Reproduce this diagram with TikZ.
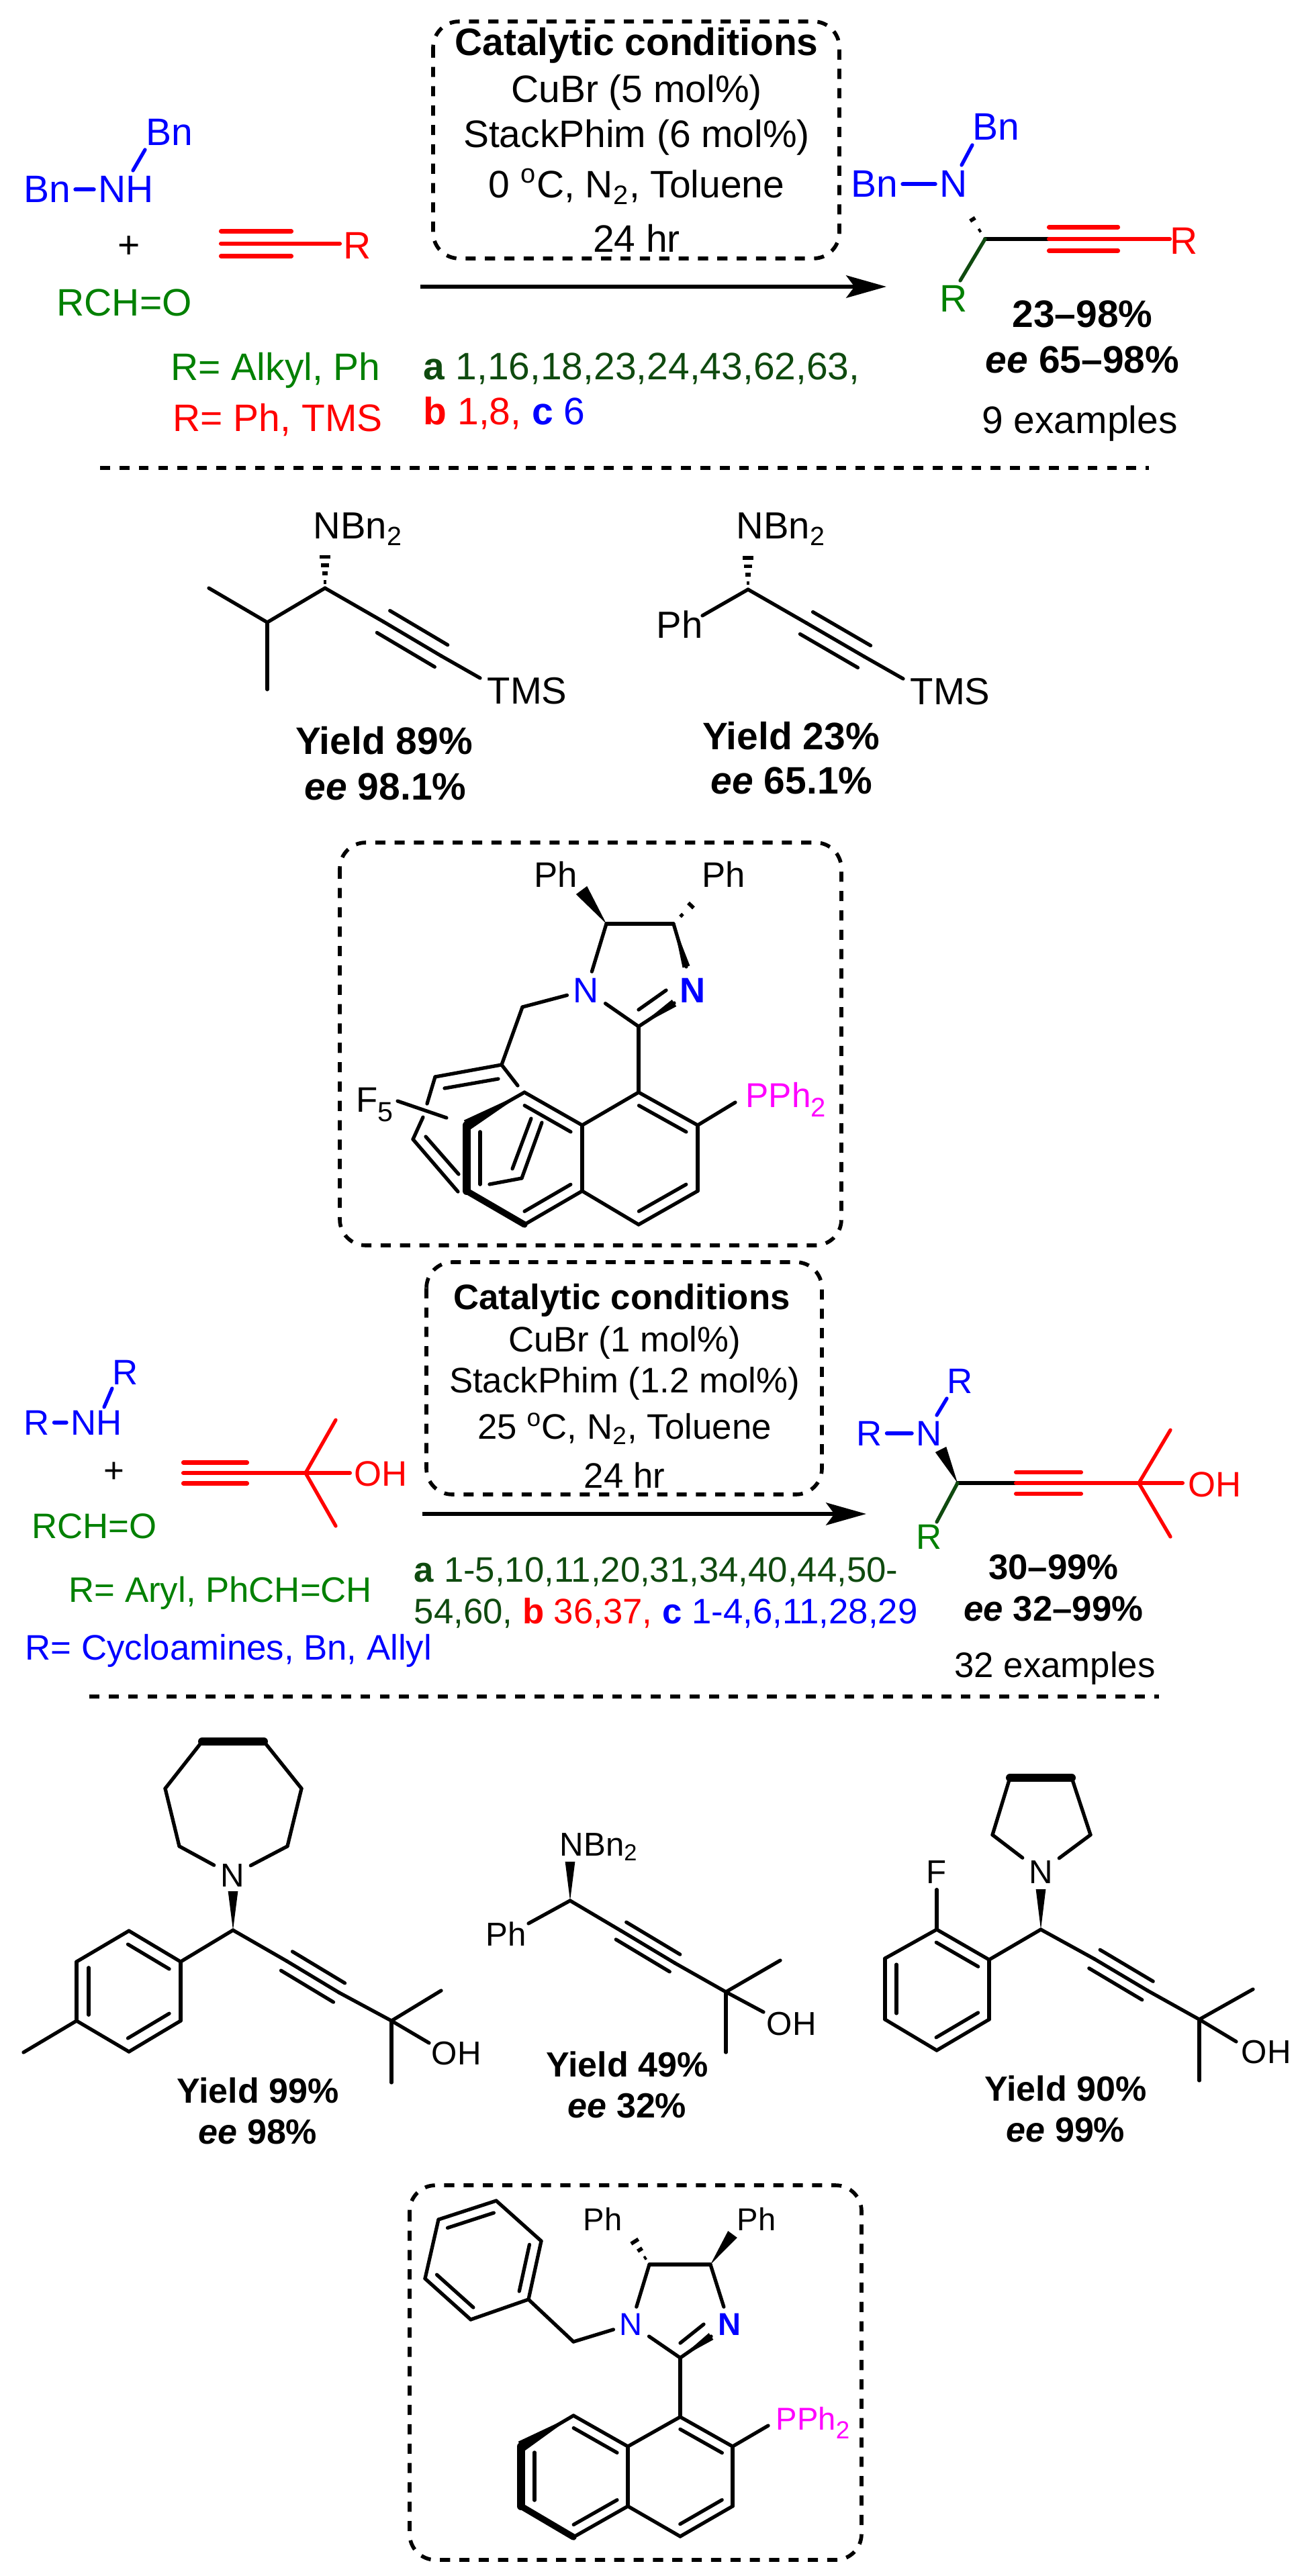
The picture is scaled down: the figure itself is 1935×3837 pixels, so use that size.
\documentclass[tikz,border=0pt]{standalone}
\usepackage{fontspec}
\setmainfont{Liberation Sans}
\usetikzlibrary{arrows.meta,calc}
\definecolor{leaf}{HTML}{008000}
\definecolor{pine}{HTML}{0F4A0F}
\definecolor{phos}{HTML}{FF00FF}
\tikzset{
  bond/.style={line width=1.5pt, line cap=round},
  heavy/.style={line width=1.75pt},
  boldbond/.style={line width=3.4pt, line cap=round},
  midbond/.style={line width=2.7pt, line cap=round},
  lbond/.style={bond, shorten >=1.8pt, shorten <=1.8pt},
  dashbox/.style={line width=1.6pt, dash pattern=on 4.3pt off 3.9pt, rounded corners=11pt},
  sepline/.style={line width=1.6pt, dash pattern=on 4.2pt off 4pt},
  reaction/.style={line width=1.6pt, -{Stealth[length=17pt,width=9.5pt,inset=3.5pt]}},
  lab/.style={inner sep=0pt, anchor=base west, font=\fontsize{#1}{#1}\selectfont},
  lab/.default=16.2,
  mid/.style={inner sep=0pt, anchor=base, font=\fontsize{#1}{#1}\selectfont},
  mid/.default=16.2,
  atom/.style={inner sep=2.5pt, anchor=base, font=\fontsize{#1}{#1}\selectfont},
  atom/.default=14,
}
\newcommand{\atoms}[1]{\foreach \n/\x/\y in {#1} \coordinate (\n) at (\x,\y);}
\newcommand{\bonds}[2][]{\foreach \p/\q in {#2} \draw[bond,#1] (\p) -- (\q);}
\newcommand{\sidebond}[4][]{\draw[bond,#1] ($(#2)!0.1!(#3)!#4!90:(#3)$) -- ($(#3)!0.1!(#2)!#4!-90:(#2)$);}
\newcommand{\triplebond}[4][]{\draw[bond,#1] (#2) -- (#3);
  \draw[bond,#1] ($(#2)!#4!90:(#3)$) -- ($(#3)!#4!-90:(#2)$);
  \draw[bond,#1] ($(#2)!-#4!90:(#3)$) -- ($(#3)!-#4!-90:(#2)$);}
\newcommand{\wedgebond}[3]{\fill (#1) -- ($(#2)!#3!90:(#1)$) -- ($(#2)!#3!-90:(#1)$) -- cycle;}
\newcommand{\hashbond}[4]{\foreach \t in {#4} {
  \pgfmathsetmacro\hw{\t*#3}
  \draw[line width=1.6pt] ($(#1)!\t!(#2)!\hw pt!90:(#2)$) -- ($(#1)!\t!(#2)!\hw pt!-90:(#2)$);}}
\newcommand{\subs}[1]{\raisebox{-.28em}{\scalebox{.78}{#1}}}
\begin{document}
\begin{tikzpicture}[x=0.01cm,y=-0.01cm]
    \useasboundingbox (0,0) rectangle (1935,3837);

    % First reaction: conditions
    \draw[dashbox] (645,32) rectangle (1250,385);
    \node[mid] (condA) at (948,83) {\textbf{Catalytic conditions}};
    \node[mid] (cuA) at (948,153) {CuBr (5 mol\%)};
    \node[mid] (phimA) at (948,220) {StackPhim (6 mol\%)};
    \node[mid] (tempA) at (948,295) {0 \textsuperscript{o}C, N\textsubscript{2}, Toluene};
    \node[mid] (timeA) at (948,376) {24 hr};
    \atoms{arrA/626/427, arrB/1320/427}
    \draw[reaction] (arrA) -- (arrB);

    % First reaction: reactants
    \node[lab,blue] (bnUp) at (217,217) {Bn};
    \node[lab,blue] (bnLeft) at (35,302) {Bn};
    \node[lab,blue] (nhTop) at (146,302) {NH};
    \draw[lbond,blue,heavy] (bnLeft) -- (nhTop);
    \atoms{nhA/198/254, nhB/216/223}
    \bonds[blue]{nhA/nhB}
    \node[mid] (plusA) at (192,385) {+};
    \atoms{ynA/329/363, ynB/434/363, ynC/506/363}
    \triplebond[red,heavy]{ynA}{ynB}{0.185cm}
    \bonds[red,heavy]{ynB/ynC}
    \node[lab,red] (rynA) at (511,386) {R};
    \node[lab,leaf] (aldA) at (84,471) {RCH=O};
    \node[lab,leaf] (rsA) at (254,567) {R= Alkyl, Ph};
    \node[lab,red] (rsB) at (257,643) {R= Ph, TMS};
    \node[lab,pine] (listA) at (630,566) {\textbf{a} 1,16,18,23,24,43,62,63,};
    \node[lab,red] (listB) at (630,633) {\textbf{b} 1,8, \textcolor{blue}{\textbf{c} 6}};

    % First reaction: product
    \node[lab,blue] (bnPa) at (1448,209) {Bn};
    \node[lab,blue] (bnPb) at (1267,294) {Bn};
    \node[lab,blue] (nPa) at (1399,294) {N};
    \draw[lbond,blue,heavy] (bnPb) -- (nPa);
    \atoms{pnA/1432/246, pnB/1448/216, pcA/1467/356, pnC/1432/301, pyA/1562/356, pyB/1665/356, pyC/1742/356, prA/1430/418}
    \bonds[blue]{pnA/pnB}
    \hashbond{pcA}{pnC}{2.4}{.23,.53,1}
    \bonds[heavy]{pcA/pyA}
    \triplebond[red,heavy]{pyA}{pyB}{0.175cm}
    \bonds[red,heavy]{pyB/pyC}
    \bonds[pine]{pcA/prA}
    \node[lab,red] (rynP) at (1742,379) {R};
    \node[lab,leaf] (rP) at (1399,465) {R};
    \node[mid] (yieldA) at (1612,488) {\textbf{23–98\%}};
    \node[mid] (eeA) at (1612,556) {\textbf{\textit{ee} 65–98\%}};
    \node[mid] (numA) at (1608,646) {9 examples};

    \atoms{sepA/149/697, sepB/1711/697}
    \draw[sepline] (sepA) -- (sepB);

    % Isopropyl example
    \node[lab=16] (nbnM) at (466,803) {NBn\textsubscript{2}};
    \atoms{mc/484/876, mn/484/814, mi/398/927, mme/311/876, mmf/398/1027, mp/571/926, mq/657/977, mt/715/1010}
    \hashbond{mc}{mn}{2.9}{.15,.35,.55,.75,1}
    \bonds{mc/mi, mi/mme, mi/mmf, mc/mp, mq/mt}
    \triplebond{mp}{mq}{0.19cm}
    \node[lab=16] (tmsM) at (725,1048) {TMS};
    \node[mid] (yieldM) at (572,1123) {\textbf{Yield 89\%}};
    \node[mid] (eeM) at (574,1191) {\textbf{\textit{ee} 98.1\%}};

    % Phenyl example
    \node[lab=16] (nbnF) at (1096,803) {NBn\textsubscript{2}};
    \node[lab=16] (phF) at (977,950) {Ph};
    \atoms{fc/1114/878, fn/1114/815, fh/1046/917, fp/1201/928, fq/1287/978, ft/1345/1011}
    \hashbond{fc}{fn}{2.9}{.15,.35,.55,.75,1}
    \bonds{fc/fh, fc/fp, fq/ft}
    \triplebond{fp}{fq}{0.19cm}
    \node[lab=16] (tmsF) at (1355,1049) {TMS};
    \node[mid] (yieldF) at (1178,1116) {\textbf{Yield 23\%}};
    \node[mid] (eeF) at (1179,1182) {\textbf{\textit{ee} 65.1\%}};

    % First ligand
    \draw[dashbox] (506,1255) rectangle (1253,1855);
    \node[lab=15] (phKa) at (795,1321) {Ph};
    \node[lab=15] (phKb) at (1045,1321) {Ph};
    \node[atom=15,blue] (kn1) at (873,1493) {N};
    \node[atom=15,blue] (kn3) at (1032,1493) {\textbf{N}};
    \atoms{kc4/903/1376, kc5/1003/1376, kwa/866/1326, kwb/1043/1334, kwc/1022/1440, kc2/951/1529, kwd/1004/1494, kia/951/1504, kib/992/1475, kch/778/1500,
      kpi/747/1586, kp2/648/1604, kp3/636/1644, kp4/630/1664, kp5/615/1697, kp6/682/1775, kp7/771/1617,
      kq1/742/1607, kq2/662/1621, kq3/634/1693, kq4/683/1749, kq5/791/1666, kq6/763/1741, kq7/807/1672, kq8/777/1755, kq9/729/1764,
      kfa/592/1640, kfb/665/1665, kph/1095/1642,
      n1/951/1627, n2/1039/1676, n3/1039/1774, n4/951/1824, n4a/867/1774, n8a/867/1676, n5/781/1824, n6/695/1774, n7/695/1676, n8/781/1627}
    \wedgebond{kc4}{kwa}{2.9pt}
    \hashbond{kc5}{kwb}{2.4}{.3,.65,1}
    \wedgebond{kc5}{kwc}{1.6pt}
    \wedgebond{kc2}{kwd}{1.7pt}
    \bonds{kc4/kc5, kc5/kwc, kc2/kwd, kc4/kn1, kn1/kc2, kia/kib, kn1/kch, kch/kpi, kpi/kp2, kp2/kp3, kp4/kp5, kp5/kp6, kpi/kp7, kq1/kq2, kq3/kq4, kq5/kq6, kq7/kq8, kq8/kq9, kfa/kfb, kc2/n1}
    \bonds{n1/n2, n2/n3, n3/n4, n4/n4a, n4a/n8a, n8a/n1, n8a/n8, n4a/n5, n2/kph, n8/n7}
    \foreach \p/\q in {n2/n1, n4/n3, n8a/n8, n5/n4a} \sidebond{\p}{\q}{0.17cm};
    \sidebond{n7}{n6}{0.2cm}
    \wedgebond{n8}{n7}{2.4pt}
    \draw[boldbond] (n7) -- (n6);
    \draw[midbond] (n6) -- (n5);
    \node[lab=15] (f5K) at (530,1656) {F\subs{5}};
    \node[lab=14.6,phos] (ppK) at (1110,1649) {PPh\subs{2}};

    % Second reaction: conditions
    \draw[dashbox] (635,1880) rectangle (1224,2226);
    \node[mid=15] (condB) at (926,1950) {\textbf{Catalytic conditions}};
    \node[mid=15] (cuB) at (930,2013) {CuBr (1 mol\%)};
    \node[mid=15] (phimB) at (930,2074) {StackPhim (1.2 mol\%)};
    \node[mid=15] (tempB) at (930,2143) {25 \textsuperscript{o}C, N\textsubscript{2}, Toluene};
    \node[mid=15] (timeB) at (930,2216) {24 hr};
    \atoms{arsA/629/2255, arsB/1290/2255}
    \draw[reaction] (arsA) -- (arsB);

    % Second reaction: reactants
    \node[lab=15,blue] (rUp) at (167,2062) {R};
    \node[lab=15,blue] (rLeft) at (35,2137) {R};
    \node[lab=15,blue] (nhBot) at (105,2137) {NH};
    \draw[lbond,blue,heavy] (rLeft) -- (nhBot);
    \atoms{shA/155/2096, shB/167/2068, syA/273/2194, syB/368/2194, syC/455/2194, syD/521/2194, syE/500/2115, syF/500/2273}
    \bonds[blue]{shA/shB}
    \node[mid=15] (plusB) at (170,2208) {+};
    \triplebond[red,heavy]{syA}{syB}{0.155cm}
    \bonds[red,heavy]{syB/syC, syC/syD}
    \bonds[red]{syC/syE, syC/syF}
    \node[lab=15,red] (ohS) at (527,2213) {OH};
    \node[lab=15,leaf] (aldB) at (47,2291) {RCH=O};
    \node[lab=15,leaf] (rsC) at (102,2386) {R= Aryl, PhCH=CH};
    \node[lab=15,blue] (rsD) at (37,2472) {R= Cycloamines, Bn, Allyl};
    \node[lab=15,pine] (listC) at (616,2356) {\textbf{a} 1-5,10,11,20,31,34,40,44,50-};
    \node[lab=15,pine] (listD) at (616,2418) {54,60, \textcolor{red}{\textbf{b} 36,37,} \textcolor{blue}{\textbf{c} 1-4,6,11,28,29}};

    % Second reaction: product
    \node[lab=15,blue] (rPa) at (1410,2075) {R};
    \node[lab=15,blue] (rPb) at (1275,2153) {R};
    \node[lab=15,blue] (nPb) at (1364,2153) {N};
    \draw[lbond,blue,heavy] (rPb) -- (nPb);
    \atoms{qnA/1395/2108, qnB/1410/2083, qcA/1426/2209, qnC/1401/2159, qyA/1513/2209, qyB/1610/2209, qyC/1696/2209, qyD/1761/2209, qyE/1743/2130, qyF/1743/2289, qrA/1395/2267}
    \bonds[blue]{qnA/qnB}
    \wedgebond{qcA}{qnC}{2.6pt}
    \bonds[heavy]{qcA/qyA}
    \triplebond[red,heavy]{qyA}{qyB}{0.16cm}
    \bonds[red,heavy]{qyB/qyC, qyC/qyD}
    \bonds[red]{qyC/qyE, qyC/qyF}
    \bonds[pine]{qcA/qrA}
    \node[lab=15,red] (ohP) at (1769,2229) {OH};
    \node[lab=15,leaf] (rQ) at (1364,2307) {R};
    \node[mid=15] (yieldB) at (1569,2352) {\textbf{30–99\%}};
    \node[mid=15] (eeB) at (1569,2414) {\textbf{\textit{ee} 32–99\%}};
    \node[mid=15] (numB) at (1571,2498) {32 examples};

    \atoms{sepC/133/2527, sepD/1726/2527}
    \draw[sepline] (sepC) -- (sepD);

    % Azepane example
    \node[atom] (azN) at (346,2810) {N};
    \atoms{aza/301/2594, azb/393/2594, azc/246/2664, azd/449/2664, aze/267/2750, azf/428/2750, ac/347/2875, an/347/2817,
      ar1/269/2922, ar2/192/2876, ar3/114/2922, ar4/114/3010, ar5/192/3056, ar6/269/3010, ame/35/3057,
      ap/427/2921, aq/505/2968, aj/583/3010, aup/657/2965, adn/583/3102, aoh/639/3043}
    \draw[boldbond] (aza) -- (azb);
    \bonds{aza/azc, azb/azd, azc/aze, azd/azf, aze/azN, azf/azN}
    \wedgebond{ac}{an}{2.1pt}
    \bonds{ac/ar1, ar1/ar2, ar2/ar3, ar3/ar4, ar4/ar5, ar5/ar6, ar6/ar1, ar4/ame, ac/ap, aq/aj, aj/aup, aj/adn, aj/aoh}
    \foreach \p/\q in {ar1/ar2, ar3/ar4, ar5/ar6} \sidebond{\p}{\q}{0.18cm};
    \triplebond{ap}{aq}{0.165cm}
    \node[lab=14] (ohA) at (642,3075) {OH};
    \node[mid=14.8] (yieldC) at (384,3132) {\textbf{Yield 99\%}};
    \node[mid=14.8] (eeC) at (384,3193) {\textbf{\textit{ee} 98\%}};

    % Dibenzylamine example
    \node[lab=14] (nbnD) at (833,2764) {NBn\textsubscript{2}};
    \node[lab=14] (phD) at (723,2898) {Ph};
    \atoms{dc/849/2831, dn/849/2773, dh/787/2865, dp/925/2876, dq/1005/2924, dj/1081/2967, dup/1162/2920, ddn/1081/3057, doh/1137/2997}
    \wedgebond{dc}{dn}{2.1pt}
    \bonds{dc/dh, dc/dp, dq/dj, dj/dup, dj/ddn, dj/doh}
    \triplebond{dp}{dq}{0.15cm}
    \node[lab=14] (ohD) at (1141,3031) {OH};
    \node[mid=14.8] (yieldD) at (934,3093) {\textbf{Yield 49\%}};
    \node[mid=14.8] (eeD) at (934,3154) {\textbf{\textit{ee} 32\%}};

    % Pyrrolidine example
    \node[atom] (pyN) at (1550,2805) {N};
    \node[atom] (fE) at (1395,2805) {F};
    \atoms{pya/1504/2648, pyb/1596/2648, pyc/1478/2733, pyd/1624/2733, ec/1550/2874, en/1550/2814,
      er1/1473/2919, er2/1395/2874, er3/1318/2917, er4/1318/3008, er5/1395/3054, er6/1473/3008,
      ep/1630/2918, eq/1709/2965, ej/1786/3008, eup/1866/2963, edn/1786/3099, eoh/1841/3041}
    \draw[boldbond] (pya) -- (pyb);
    \bonds{pya/pyc, pyb/pyd, pyc/pyN, pyd/pyN}
    \wedgebond{ec}{en}{2.1pt}
    \bonds{ec/er1, er1/er2, er2/er3, er3/er4, er4/er5, er5/er6, er6/er1, er2/fE, ec/ep, eq/ej, ej/eup, ej/edn, ej/eoh}
    \foreach \p/\q in {er1/er2, er3/er4, er5/er6} \sidebond{\p}{\q}{0.17cm};
    \triplebond{ep}{eq}{0.16cm}
    \node[lab=14] (ohE) at (1848,3073) {OH};
    \node[mid=14.8] (yieldE) at (1587,3129) {\textbf{Yield 90\%}};
    \node[mid=14.8] (eeE) at (1587,3190) {\textbf{\textit{ee} 99\%}};

    % Second ligand
    \draw[dashbox] (610,3255) rectangle (1283,3813);
    \node[lab=13.4] (phQa) at (868,3322) {Ph};
    \node[lab=13.4] (phQb) at (1097,3322) {Ph};
    \node[atom=13.4,blue] (hn1) at (940,3478) {N};
    \node[atom=13.4,blue] (hn3) at (1086,3478) {\textbf{N}};
    \atoms{hc5/967/3373, hc4/1058/3373, hwa/936/3324, hwb/1091/3328, hc2/1013/3512, hwc/1059/3480, hia/1013/3490, hib/1048/3462, hch/854/3488,
      b1/739/3278, b2/653/3306, b3/633/3394, b4/701/3455, b5/787/3425, b6/806/3338, hph/1144/3613,
      h1/1013/3600, h2/1091/3644, h3/1091/3733, h4/1013/3778, h4a/935/3733, h8a/935/3644, h5/854/3779, h6/776/3733, h7/776/3644, h8/854/3598}
    \hashbond{hc5}{hwa}{2.6}{.2,.45,.7,1}
    \wedgebond{hc4}{hwb}{2.4pt}
    \wedgebond{hc2}{hwc}{1.7pt}
    \bonds{hc5/hc4, hc2/hwc, hc5/hn1, hc4/hn3, hn1/hc2, hia/hib, hn1/hch, hch/b5, b1/b2, b2/b3, b3/b4, b4/b5, b5/b6, b6/b1, hc2/h1}
    \foreach \p/\q in {b1/b2, b3/b4, b5/b6} \sidebond{\p}{\q}{0.16cm};
    \bonds{h1/h2, h2/h3, h3/h4, h4/h4a, h4a/h8a, h8a/h1, h8a/h8, h4a/h5, h2/hph, h8/h7}
    \foreach \p/\q in {h2/h1, h4/h3, h8a/h8, h5/h4a} \sidebond{\p}{\q}{0.16cm};
    \sidebond{h7}{h6}{0.2cm}
    \wedgebond{h8}{h7}{2.4pt}
    \draw[boldbond] (h7) -- (h6);
    \draw[midbond] (h6) -- (h5);
    \node[lab=13.4,phos] (ppQ) at (1155,3619) {PPh\subs{2}};
\end{tikzpicture}
\end{document}
